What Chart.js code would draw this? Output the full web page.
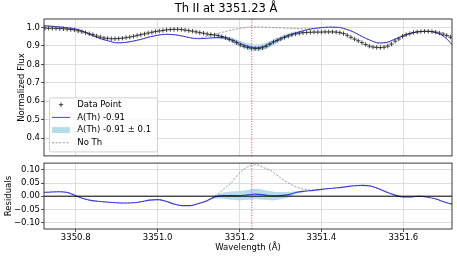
<!DOCTYPE html>
<html>
<head>
<meta charset="utf-8">
<script src="https://cdn.jsdelivr.net/npm/chart.js@4.4.0/dist/chart.umd.min.js"></script>
<style>
  html, body { margin: 0; padding: 0; background: #fff; }
  #wrap { position: relative; width: 457px; height: 257px; overflow: hidden; }
  #fluxChart { position: absolute; left: 0; top: 0; }
  #resChart { position: absolute; left: 0; top: 157px; }
</style>
</head>
<body>
<div id="wrap">
  <canvas id="fluxChart" width="457" height="162"></canvas>
  <canvas id="resChart" width="457" height="100"></canvas>
</div>
<script>
// --- values ---
const TITLE = 'Th II at 3351.23 Å';
const LINE_WL = 3351.23;
const X_MIN = 3350.7226, X_MAX = 3351.7189;
const FLUX_MIN = 0.304, FLUX_MAX = 1.046;
const RES_MIN = -0.125, RES_MAX = 0.126;
const X_TICKS = [3350.8, 3351.0, 3351.2, 3351.4, 3351.6];
const FLUX_TICKS = [0.4, 0.5, 0.6, 0.7, 0.8, 0.9, 1.0];
const RES_TICKS = [-0.10, -0.05, 0.00, 0.05, 0.10];

// observed spectrum (every 0.009 A from 3350.725)
const DATA_WL_START = 3350.725, DATA_WL_STEP = 0.009;
const DATA_FLUX = [
  0.997, 0.996, 0.996, 0.995, 0.994, 0.993, 0.991, 0.989, 0.987, 0.982,
  0.977, 0.972, 0.966, 0.961, 0.954, 0.948, 0.943, 0.941, 0.939, 0.939,
  0.940, 0.942, 0.945, 0.948, 0.952, 0.957, 0.961, 0.965, 0.970, 0.974,
  0.978, 0.981, 0.984, 0.987, 0.989, 0.990, 0.990, 0.989, 0.986, 0.983,
  0.980, 0.976, 0.972, 0.969, 0.965, 0.962, 0.959, 0.956, 0.951, 0.944,
  0.936, 0.927, 0.917, 0.906, 0.898, 0.892, 0.888, 0.886, 0.886, 0.890,
  0.898, 0.910, 0.922, 0.930, 0.938, 0.946, 0.953, 0.960, 0.965, 0.969,
  0.972, 0.973, 0.974, 0.975, 0.975, 0.975, 0.976, 0.976, 0.976, 0.975,
  0.972, 0.967, 0.958, 0.947, 0.937, 0.928, 0.918, 0.908, 0.899, 0.894,
  0.892, 0.891, 0.893, 0.899, 0.910, 0.926, 0.938, 0.952, 0.961, 0.967,
  0.973, 0.976, 0.978, 0.979, 0.979, 0.978, 0.975, 0.970, 0.964, 0.957,
  0.948
];

// synthetic spectra (every 0.02 A from 3350.72)
const MODEL_WL_START = 3350.72, MODEL_WL_STEP = 0.02;
const MODEL_FLUX = [
  1.010, 1.007, 1.003, 0.998, 0.991, 0.978, 0.957, 0.940, 0.927, 0.917,
  0.919, 0.926, 0.936, 0.949, 0.958, 0.963, 0.961, 0.954, 0.944, 0.939,
  0.941, 0.945, 0.945, 0.934, 0.915, 0.898, 0.890, 0.898, 0.917, 0.940,
  0.959, 0.972, 0.985, 0.994, 0.999, 1.002, 1.001, 0.991, 0.974, 0.950,
  0.930, 0.916, 0.919, 0.938, 0.955, 0.969, 0.978, 0.979, 0.972, 0.950,
  0.906
];
const BAND_LO = [
  1.010, 1.007, 1.003, 0.998, 0.991, 0.978, 0.957, 0.940, 0.927, 0.917,
  0.919, 0.926, 0.936, 0.949, 0.958, 0.963, 0.961, 0.954, 0.944, 0.939,
  0.939, 0.940, 0.936, 0.921, 0.900, 0.880, 0.872, 0.880, 0.900, 0.927,
  0.950, 0.967, 0.983, 0.994, 0.999, 1.002, 1.001, 0.991, 0.974, 0.950,
  0.930, 0.916, 0.919, 0.938, 0.955, 0.969, 0.978, 0.979, 0.972, 0.950,
  0.906
];
const BAND_HI = [
  1.010, 1.007, 1.003, 0.998, 0.991, 0.978, 0.957, 0.940, 0.927, 0.917,
  0.919, 0.926, 0.936, 0.949, 0.958, 0.963, 0.961, 0.954, 0.944, 0.939,
  0.943, 0.950, 0.954, 0.946, 0.930, 0.915, 0.908, 0.915, 0.932, 0.952,
  0.967, 0.977, 0.987, 0.994, 0.999, 1.002, 1.001, 0.991, 0.974, 0.950,
  0.930, 0.916, 0.919, 0.938, 0.955, 0.969, 0.978, 0.979, 0.972, 0.950,
  0.906
];
const NOTH_FLUX = [
  1.010, 1.007, 1.003, 0.998, 0.991, 0.978, 0.957, 0.940, 0.927, 0.917,
  0.919, 0.926, 0.936, 0.949, 0.958, 0.963, 0.961, 0.954, 0.944, 0.942,
  0.951, 0.964, 0.975, 0.986, 0.995, 1.001, 1.003, 1.002, 1.000, 0.998,
  0.996, 0.994, 0.993, 0.995, 0.999, 1.002, 1.001, 0.991, 0.974, 0.950,
  0.930, 0.916, 0.919, 0.938, 0.955, 0.969, 0.978, 0.979, 0.972, 0.950,
  0.906
];

// residuals on the synthetic grid
const RES_MODEL = [
  0.014, 0.016, 0.017, 0.014, 0.002, -0.010, -0.017, -0.020, -0.023, -0.025,
  -0.026, -0.025, -0.021, -0.015, -0.013, -0.019, -0.030, -0.036, -0.036, -0.028,
  -0.018, -0.003, 0.002, 0.002, 0.002, 0.005, 0.008, 0.005, 0.001, 0.002,
  0.006, 0.015, 0.019, 0.022, 0.026, 0.029, 0.032, 0.036, 0.040, 0.041,
  0.039, 0.028, 0.015, 0.004, -0.003, -0.003, 0.000, -0.004, -0.011, -0.022,
  -0.031
];
const RES_LO = [
  0.014, 0.016, 0.017, 0.014, 0.002, -0.010, -0.017, -0.020, -0.023, -0.025,
  -0.026, -0.025, -0.021, -0.015, -0.013, -0.019, -0.030, -0.036, -0.036, -0.028,
  -0.020, -0.009, -0.010, -0.014, -0.016, -0.014, -0.012, -0.014, -0.016, -0.012,
  -0.004, 0.010, 0.017, 0.022, 0.026, 0.029, 0.032, 0.036, 0.040, 0.041,
  0.039, 0.028, 0.015, 0.004, -0.003, -0.003, 0.000, -0.004, -0.011, -0.022,
  -0.031
];
const RES_HI = [
  0.014, 0.016, 0.017, 0.014, 0.002, -0.010, -0.017, -0.020, -0.023, -0.025,
  -0.026, -0.025, -0.021, -0.015, -0.013, -0.019, -0.030, -0.036, -0.036, -0.028,
  -0.016, 0.003, 0.014, 0.018, 0.020, 0.024, 0.028, 0.024, 0.018, 0.016,
  0.016, 0.020, 0.021, 0.022, 0.026, 0.029, 0.032, 0.036, 0.040, 0.041,
  0.039, 0.028, 0.015, 0.004, -0.003, -0.003, 0.000, -0.004, -0.011, -0.022,
  -0.031
];
const RES_NOTH = [
  0.014, 0.016, 0.017, 0.014, 0.002, -0.010, -0.017, -0.020, -0.023, -0.025,
  -0.026, -0.025, -0.021, -0.015, -0.013, -0.019, -0.030, -0.036, -0.036, -0.028,
  -0.018, 0.000, 0.025, 0.052, 0.088, 0.112, 0.120, 0.108, 0.094, 0.070,
  0.050, 0.034, 0.026, 0.023, 0.026, 0.029, 0.032, 0.036, 0.040, 0.041,
  0.039, 0.028, 0.015, 0.004, -0.003, -0.003, 0.000, -0.004, -0.011, -0.022,
  -0.031
];

// --- styling ---
const FONT = 'DejaVu Sans';
const INK = '#000000';
const GRID = '#d4d4d4';
const SPINE = '#262626';
const BLUE = 'rgba(30, 30, 235, 0.85)';
const BAND = 'rgba(173, 216, 230, 0.9)';

Chart.defaults.font.family = FONT;
Chart.defaults.font.size = 8.5;
Chart.defaults.color = INK;

function grid(start, step, n) {
  return Array.from({ length: n }, (_, i) => +(start + i * step).toFixed(4));
}
function pts(xs, ys) {
  return xs.map((x, i) => ({ x: x, y: ys[i] }));
}
const DATA_WL = grid(DATA_WL_START, DATA_WL_STEP, DATA_FLUX.length);
const MODEL_WL = grid(MODEL_WL_START, MODEL_WL_STEP, MODEL_FLUX.length);

function xScale(showLabels) {
  return {
    type: 'linear', min: X_MIN, max: X_MAX,
    afterBuildTicks: axis => { axis.ticks = X_TICKS.map(v => ({ value: v })); },
    afterFit: axis => { axis.height = showLabels ? 28 : 0; },
    ticks: { display: showLabels, autoSkip: false, maxRotation: 0, padding: 1, color: INK,
             callback: v => v.toFixed(1) },
    grid: { color: GRID, lineWidth: 0.8, drawTicks: showLabels, tickLength: 3,
            tickColor: SPINE, tickWidth: 0.8 },
    border: { display: false },
    title: { display: showLabels, text: 'Wavelength (Å)', color: INK,
             padding: { top: 0, bottom: 4.5 } }
  };
}

function yScale(min, max, ticks, digits, title, titlePad) {
  return {
    min: min, max: max,
    afterBuildTicks: axis => { axis.ticks = ticks.map(v => ({ value: v })); },
    afterFit: axis => { axis.width = 44; },
    ticks: { autoSkip: false, padding: 1, color: INK,
             callback: v => v.toFixed(digits).replace('-', '\u2212') },
    grid: { color: GRID, lineWidth: 0.8, tickLength: 3, tickColor: SPINE, tickWidth: 0.8 },
    border: { display: false },
    title: { display: true, text: title, color: INK, padding: { top: titlePad, bottom: 0 } }
  };
}

function curve(label, ys, color, width, dash) {
  return {
    label: label, data: pts(MODEL_WL, ys), borderColor: color, borderWidth: width,
    borderDash: dash || [], pointRadius: 0, cubicInterpolationMode: 'monotone', fill: false
  };
}
function vline(lo, hi) {
  return {
    label: 'line', data: [{ x: LINE_WL, y: lo }, { x: LINE_WL, y: hi }],
    borderColor: '#ff0000', borderWidth: 0.8, borderDash: [1, 1.6], pointRadius: 0, fill: false
  };
}
function band(lo, hi) {
  const a = curve('band lo', lo, 'rgba(0,0,0,0)', 0);
  const b = curve('A(Th) -0.91 \u00b1 0.1', hi, 'rgba(0,0,0,0)', 0);
  b.fill = '-1';
  b.backgroundColor = BAND;
  return [a, b];
}

// full box around each panel
const framePlugin = {
  id: 'frame',
  afterDraw(chart) {
    const { ctx, chartArea: a } = chart;
    ctx.save();
    ctx.strokeStyle = SPINE;
    ctx.lineWidth = 0.9;
    ctx.strokeRect(a.left, a.top, a.right - a.left, a.bottom - a.top);
    ctx.restore();
  }
};

// legend drawn inside the flux panel, lower left
const legendPlugin = {
  id: 'insideLegend',
  afterDraw(chart) {
    const { ctx, chartArea: a } = chart;
    const x = a.left + 5, y = a.bottom - 58.5, w = 108, h = 54;
    ctx.save();
    ctx.beginPath();
    ctx.roundRect(x + 0.5, y + 0.5, w, h, 2);
    ctx.fillStyle = 'rgba(255,255,255,0.85)';
    ctx.fill();
    ctx.strokeStyle = '#d0d0d0';
    ctx.lineWidth = 1;
    ctx.stroke();

    const rows = ['Data Point', 'A(Th) -0.91', 'A(Th) -0.91 \u00b1 0.1', 'No Th'];
    const hx0 = x + 3, hx1 = x + 21;
    rows.forEach((text, i) => {
      const cy = y + 7.3 + i * 12.7;
      ctx.setLineDash([]);
      if (i === 0) {
        ctx.strokeStyle = '#2a2a2a';
        ctx.lineWidth = 0.9;
        ctx.beginPath();
        ctx.moveTo((hx0 + hx1) / 2 - 2.2, cy); ctx.lineTo((hx0 + hx1) / 2 + 2.2, cy);
        ctx.moveTo((hx0 + hx1) / 2, cy - 2.2); ctx.lineTo((hx0 + hx1) / 2, cy + 2.2);
        ctx.stroke();
      } else if (i === 1) {
        ctx.strokeStyle = BLUE;
        ctx.lineWidth = 1;
        ctx.beginPath(); ctx.moveTo(hx0, cy); ctx.lineTo(hx1, cy); ctx.stroke();
      } else if (i === 2) {
        ctx.fillStyle = BAND;
        ctx.fillRect(hx0, cy - 3, hx1 - hx0, 6);
      } else {
        ctx.strokeStyle = '#888888';
        ctx.lineWidth = 0.8;
        ctx.setLineDash([2.2, 1.4]);
        ctx.beginPath(); ctx.moveTo(hx0, cy); ctx.lineTo(hx1, cy); ctx.stroke();
      }
      ctx.setLineDash([]);
      ctx.fillStyle = INK;
      ctx.font = '8.5px "' + FONT + '"';
      ctx.textBaseline = 'middle';
      ctx.textAlign = 'left';
      ctx.fillText(text, x + 28.3, cy);
    });
    ctx.restore();
  }
};

const baseOptions = {
  responsive: false,
  animation: false,
  events: [],
  plugins: { legend: { display: false }, tooltip: { enabled: false } }
};

new Chart(document.getElementById('fluxChart'), {
  type: 'line',
  data: {
    datasets: [
      vline(FLUX_MIN, FLUX_MAX),
      { label: 'Data Point', data: pts(DATA_WL, DATA_FLUX), showLine: false,
        pointStyle: 'cross', pointRadius: 2.2, pointBorderWidth: 0.9,
        borderColor: '#2a2a2a', pointBorderColor: '#2a2a2a' },
      curve('A(Th) -0.91', MODEL_FLUX, BLUE, 1),
      curve('No Th', NOTH_FLUX, '#888888', 0.8, [2.2, 1.4]),
      ...band(BAND_LO, BAND_HI)
    ]
  },
  options: {
    ...baseOptions,
    layout: { padding: { left: 0, right: 5, top: 0, bottom: 2.5 } },
    plugins: {
      ...baseOptions.plugins,
      title: { display: true, text: TITLE, color: INK,
               font: { size: 11.5, weight: 'normal' }, padding: { top: 2.6, bottom: 2.6 } }
    },
    scales: {
      x: xScale(false),
      y: yScale(FLUX_MIN, FLUX_MAX, FLUX_TICKS, 1, 'Normalized Flux', 16.4)
    }
  },
  plugins: [framePlugin, legendPlugin]
});

new Chart(document.getElementById('resChart'), {
  type: 'line',
  data: {
    datasets: [
      vline(RES_MIN, RES_MAX),
      { label: 'zero', data: [{ x: X_MIN, y: 0 }, { x: X_MAX, y: 0 }],
        borderColor: '#000000', borderWidth: 1, pointRadius: 0, fill: false },
      curve('A(Th) -0.91', RES_MODEL, BLUE, 1.1),
      curve('No Th', RES_NOTH, '#888888', 0.8, [2.2, 1.4]),
      ...band(RES_LO, RES_HI)
    ]
  },
  options: {
    ...baseOptions,
    layout: { padding: { left: 0, right: 5, top: 2.5, bottom: 0 } },
    scales: {
      x: xScale(true),
      y: yScale(RES_MIN, RES_MAX, RES_TICKS, 2, 'Residuals', 3.9)
    }
  },
  plugins: [framePlugin]
});
</script>
</body>
</html>
